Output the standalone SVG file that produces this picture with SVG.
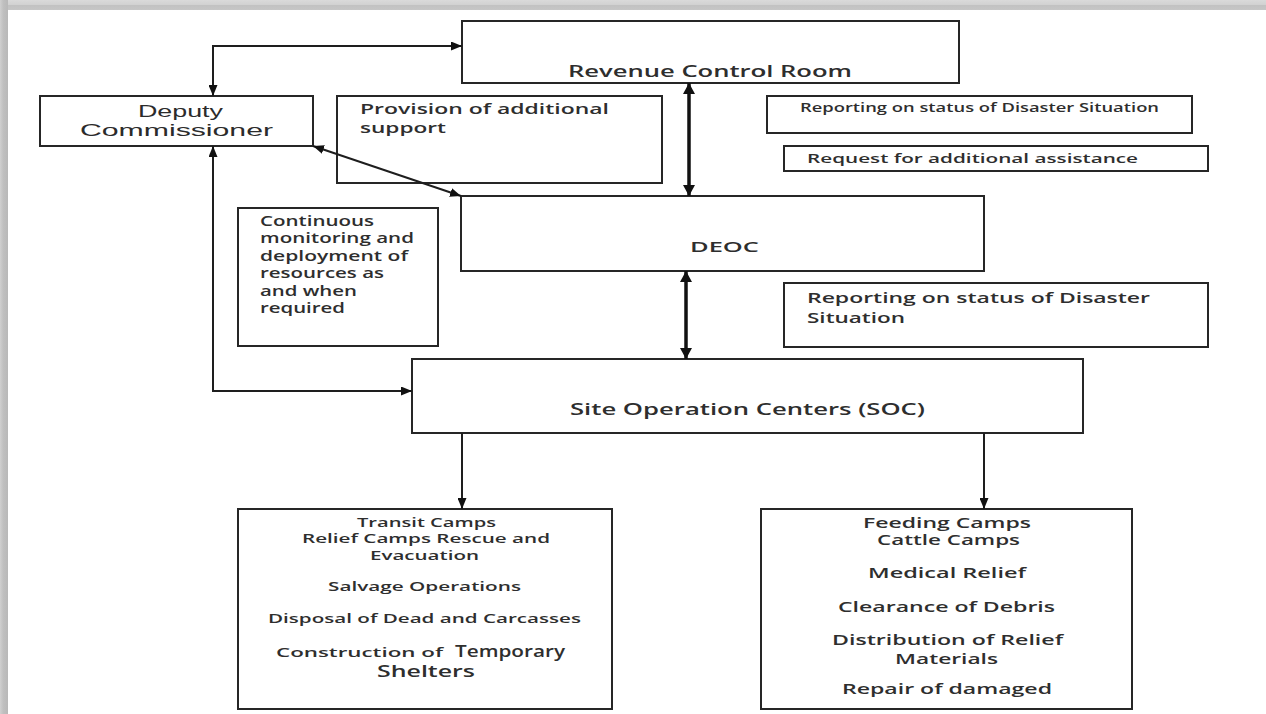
<svg xmlns="http://www.w3.org/2000/svg" width="1266" height="714" viewBox="0 0 1266 714">
  <style>
    .box { fill: #ffffff; stroke: #262626; stroke-width: 2; }
    .t { font-family: "Open Sans", "Liberation Sans", sans-serif; font-weight: 600; fill: #2e2e2e; }
    .arial { font-family: "Liberation Sans", Arial, sans-serif; fill: #2b2b2b; }
    .link { fill: none; stroke: #1e1e1e; stroke-width: 2; }
    .thick { fill: none; stroke: #111111; stroke-width: 3.5; }
  </style>
  <defs>
    <marker id="arrow" viewBox="0 0 10 10" refX="10" refY="5" markerWidth="11" markerHeight="9" markerUnits="userSpaceOnUse" orient="auto-start-reverse" preserveAspectRatio="none">
      <path d="M0,0 L10,5 L0,10 Z" fill="#111111"/>
    </marker>
    <marker id="arrowBig" viewBox="0 0 10 10" refX="10" refY="5" markerWidth="11" markerHeight="12" markerUnits="userSpaceOnUse" orient="auto-start-reverse" preserveAspectRatio="none">
      <path d="M0,0 L10,5 L0,10 Z" fill="#111111"/>
    </marker>
    <linearGradient id="topShade" x1="0" y1="0" x2="0" y2="1">
      <stop offset="0" stop-color="#dadada"/>
      <stop offset="0.45" stop-color="#d2d2d2"/>
      <stop offset="0.55" stop-color="#c2c2c2"/>
      <stop offset="1" stop-color="#c6c6c6"/>
    </linearGradient>
    <linearGradient id="leftShade" x1="0" y1="0" x2="1" y2="0">
      <stop offset="0" stop-color="#d0d0d0"/>
      <stop offset="0.4" stop-color="#c0c0c0"/>
      <stop offset="1" stop-color="#b8b8b8"/>
    </linearGradient>
  </defs>

  <!-- page and frame shading -->
  <rect x="0" y="0" width="1266" height="714" fill="#ffffff"/>
  <rect x="0" y="0" width="1266" height="10" fill="url(#topShade)"/>
  <rect x="0" y="0" width="8" height="714" fill="url(#leftShade)"/>

  <g id="revenue-control-room">
    <rect class="box" x="462" y="21" width="497" height="62"/>
    <text class="t" x="568" y="77" font-size="16" textLength="284" lengthAdjust="spacingAndGlyphs">Revenue Control Room</text>
  </g>

  <g id="deputy-commissioner">
    <rect class="box" x="40" y="96" width="273" height="50"/>
    <text class="arial" x="138" y="117" font-size="16" textLength="85" lengthAdjust="spacingAndGlyphs">Deputy</text>
    <text class="arial" x="80" y="136" font-size="16" textLength="193" lengthAdjust="spacingAndGlyphs">Commissioner</text>
  </g>

  <g id="provision-support">
    <rect class="box" x="337" y="96" width="325" height="87"/>
    <text class="t" x="360" y="114" font-size="14" textLength="249" lengthAdjust="spacingAndGlyphs">Provision of additional</text>
    <text class="t" x="360" y="133" font-size="14" textLength="86" lengthAdjust="spacingAndGlyphs">support</text>
  </g>

  <g id="reporting-status-top">
    <rect class="box" x="767" y="96" width="425" height="37"/>
    <text class="t" x="800" y="112" font-size="12" textLength="359" lengthAdjust="spacingAndGlyphs">Reporting on status of Disaster Situation</text>
  </g>

  <g id="request-assistance">
    <rect class="box" x="784" y="146" width="424" height="25"/>
    <text class="t" x="807" y="163" font-size="13" textLength="331" lengthAdjust="spacingAndGlyphs">Request for additional assistance</text>
  </g>

  <g id="deoc">
    <rect class="box" x="461" y="196" width="523" height="75"/>
    <text class="t" x="690" y="252" font-size="15" textLength="69" lengthAdjust="spacingAndGlyphs">DEOC</text>
  </g>

  <g id="continuous-monitoring">
    <rect class="box" x="238" y="208" width="200" height="138"/>
    <text class="t" x="260" y="226" font-size="14" textLength="114" lengthAdjust="spacingAndGlyphs">Continuous</text>
    <text class="t" x="260" y="243" font-size="14" textLength="154" lengthAdjust="spacingAndGlyphs">monitoring and</text>
    <text class="t" x="260" y="261" font-size="14" textLength="148" lengthAdjust="spacingAndGlyphs">deployment of</text>
    <text class="t" x="260" y="278" font-size="14" textLength="124" lengthAdjust="spacingAndGlyphs">resources as</text>
    <text class="t" x="260" y="296" font-size="14" textLength="97" lengthAdjust="spacingAndGlyphs">and when</text>
    <text class="t" x="260" y="313" font-size="14" textLength="85" lengthAdjust="spacingAndGlyphs">required</text>
  </g>

  <g id="reporting-status-soc">
    <rect class="box" x="784" y="283" width="424" height="64"/>
    <text class="t" x="807" y="303" font-size="14" textLength="343" lengthAdjust="spacingAndGlyphs">Reporting on status of Disaster</text>
    <text class="t" x="807" y="323" font-size="14" textLength="98" lengthAdjust="spacingAndGlyphs">Situation</text>
  </g>

  <g id="site-operation-centers">
    <rect class="box" x="412" y="359" width="671" height="74"/>
    <text class="t" x="570" y="415" font-size="16" textLength="355" lengthAdjust="spacingAndGlyphs">Site Operation Centers (SOC)</text>
  </g>

  <g id="camps-rescue">
    <rect class="box" x="238" y="509" width="374" height="200"/>
    <text class="t" x="357" y="527" font-size="13" textLength="139" lengthAdjust="spacingAndGlyphs">Transit Camps</text>
    <text class="t" x="302" y="543" font-size="13" textLength="248" lengthAdjust="spacingAndGlyphs">Relief Camps Rescue and</text>
    <text class="t" x="370" y="560" font-size="13" textLength="109" lengthAdjust="spacingAndGlyphs">Evacuation</text>
    <text class="t" x="328" y="591" font-size="13" textLength="193" lengthAdjust="spacingAndGlyphs">Salvage Operations</text>
    <text class="t" x="268" y="623" font-size="13" textLength="313" lengthAdjust="spacingAndGlyphs">Disposal of Dead and Carcasses</text>
    <text class="t" x="276" y="657" font-size="13" textLength="167" lengthAdjust="spacingAndGlyphs">Construction of</text>
    <text class="t" x="455" y="657" font-size="17" textLength="110" lengthAdjust="spacingAndGlyphs">Temporary</text>
    <text class="t" x="377" y="677" font-size="17" textLength="98" lengthAdjust="spacingAndGlyphs">Shelters</text>
  </g>

  <g id="camps-relief">
    <rect class="box" x="761" y="509" width="371" height="200"/>
    <text class="t" x="863" y="528" font-size="14" textLength="168" lengthAdjust="spacingAndGlyphs">Feeding Camps</text>
    <text class="t" x="877" y="545" font-size="14" textLength="143" lengthAdjust="spacingAndGlyphs">Cattle Camps</text>
    <text class="t" x="868" y="578" font-size="14" textLength="158" lengthAdjust="spacingAndGlyphs">Medical Relief</text>
    <text class="t" x="838" y="612" font-size="14" textLength="217" lengthAdjust="spacingAndGlyphs">Clearance of Debris</text>
    <text class="t" x="832" y="645" font-size="14" textLength="231" lengthAdjust="spacingAndGlyphs">Distribution of Relief</text>
    <text class="t" x="895" y="664" font-size="14" textLength="103" lengthAdjust="spacingAndGlyphs">Materials</text>
    <text class="t" x="842" y="694" font-size="14" textLength="210" lengthAdjust="spacingAndGlyphs">Repair of damaged</text>
  </g>

  <!-- connectors, drawn last so the diagonal link crosses over the support box -->
  <g id="connectors">
    <path class="link" d="M213,96 L213,46 L462,46" marker-start="url(#arrow)" marker-end="url(#arrow)"/>
    <path class="link" d="M313,146 L461,196" marker-start="url(#arrow)" marker-end="url(#arrow)"/>
    <path class="link" d="M213,146 L213,391 L412,391" marker-start="url(#arrow)" marker-end="url(#arrow)"/>
    <path class="thick" d="M689,83 L689,196" marker-start="url(#arrowBig)" marker-end="url(#arrowBig)"/>
    <path class="thick" d="M686,271 L686,359" marker-start="url(#arrowBig)" marker-end="url(#arrowBig)"/>
    <path class="link" d="M462,433 L462,509" marker-end="url(#arrow)"/>
    <path class="link" d="M984,433 L984,509" marker-end="url(#arrow)"/>
  </g>
</svg>
